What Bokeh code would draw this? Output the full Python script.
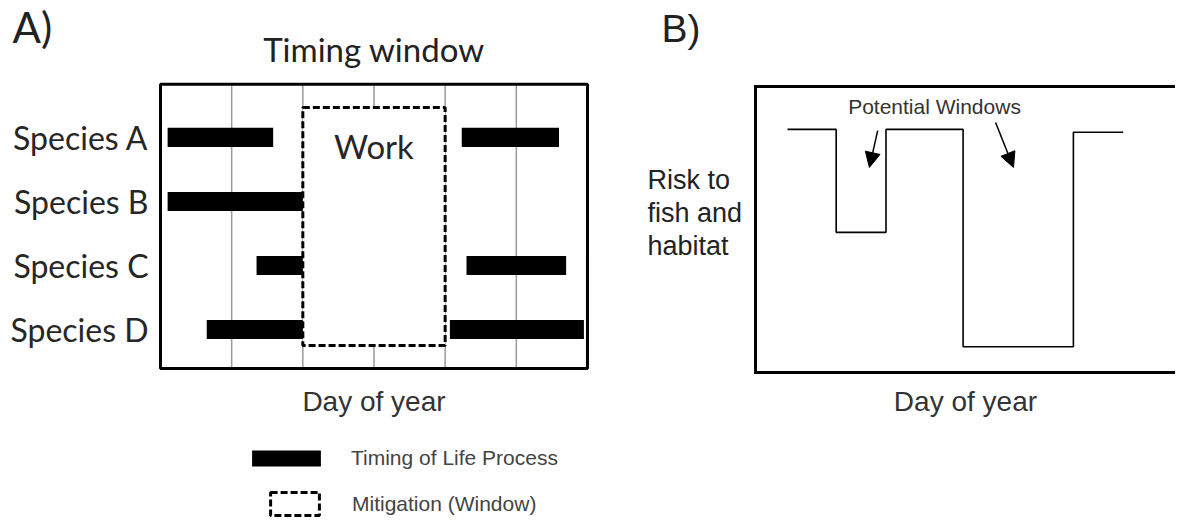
from bokeh.plotting import figure
from bokeh.models import (Range1d, Label, Legend, LegendItem, Arrow, NormalHead, BoxAnnotation)
from bokeh.core.properties import value
from bokeh.layouts import row
from bokeh.embed import file_html
from bokeh.resources import INLINE

# ---------------- data ----------------
species = ["Species A", "Species B", "Species C", "Species D"]
bar_species = ["Species A", "Species A", "Species B", "Species C", "Species C", "Species D", "Species D"]
bar_start = [6, 254, 6, 81, 258, 39, 244]     # day of year
bar_end = [95, 336, 120, 120, 342, 120, 357]
work_start = [120]
work_end = [240]
grid_days = [60, 120, 180, 240, 300]
year_days = 360

risk_day = [27, 68, 110, 175, 268, 310]
risk_level = [85, 49, 85, 9, 84, 84]          # relative risk (0-100)

row_of = {s: len(species) - i for i, s in enumerate(species)}
bar_y = [row_of[s] for s in bar_species]
species_y = [row_of[s] for s in species]

CAL = "Lato"
ARI = "Liberation Sans"

# ======================= panel A =======================
# the plotting frame covers the whole canvas; the chart box is drawn as an annotation
pA = figure(width=619, height=518, x_range=Range1d(-134.9, 387.0), y_range=Range1d(-1.953, 6.14),
            output_backend="svg", toolbar_location=None, min_border=0,
            x_axis_location=None, y_axis_location=None)
pA.outline_line_color = None
pA.xgrid.visible = False
pA.ygrid.visible = False
pA.background_fill_color = "white"
pA.border_fill_color = "white"

y_lo, y_hi = 0.39, 4.83   # extent of the chart box in row units

pA.segment(x0=grid_days, x1=grid_days, y0=[y_lo] * len(grid_days), y1=[y_hi] * len(grid_days),
           line_color="#9a9a9a", line_width=1.5)
box = pA.quad(left=work_start, right=work_end, bottom=[0.75], top=[4.47],
              fill_color="white", line_color="black", line_width=3, line_dash="7 3")
bars = pA.hbar(y=bar_y, left=bar_start, right=bar_end, height=0.3,
               fill_color="black", line_color=None)
pA.add_layout(BoxAnnotation(left=0, right=year_days, bottom=y_lo, top=y_hi,
                            fill_alpha=0, line_color="black", line_width=3, line_alpha=1))

pA.text(x=[-10.1] * len(species), y=species_y, text=species, text_font=value(CAL),
        text_font_size="32px", text_align="right", text_baseline="middle", text_color="#262626")

pA.add_layout(Label(x=180, y=3.867, text="Work", text_align="center", text_baseline="middle",
                    text_font=CAL, text_font_size="33px", text_color="#262626"))
pA.add_layout(Label(x=180, y=5.375, text="Timing window", text_align="center",
                    text_baseline="middle", text_font=CAL, text_font_size="33px",
                    text_color="#222222"))
pA.add_layout(Label(x=-124.8, y=5.719, text="A)", text_align="left", text_baseline="middle",
                    text_font=CAL, text_font_size="42px", text_color="#222222"))
pA.add_layout(Label(x=180, y=-0.125, text="Day of year", text_align="center",
                    text_baseline="middle", text_font=ARI, text_font_size="28px",
                    text_color="#333333"))

leg1 = Legend(items=[LegendItem(label="Timing of Life Process", renderers=[bars])],
              location=(243, 48), glyph_width=86, glyph_height=20, label_standoff=22,
              padding=0, margin=0, spacing=0, border_line_color=None, background_fill_alpha=0,
              label_text_font=ARI, label_text_font_size="21px", label_text_color="#444444")
leg2 = Legend(items=[LegendItem(label="Mitigation (Window)", renderers=[box])],
              location=(264, 0), glyph_width=61, glyph_height=29, label_standoff=27,
              padding=0, margin=0, spacing=0, border_line_color=None, background_fill_alpha=0,
              label_text_font=ARI, label_text_font_size="21px", label_text_color="#444444")
pA.add_layout(leg1)
pA.add_layout(leg2)

# ======================= panel B =======================
pB = figure(width=556, height=518, x_range=Range1d(-114.7, 354.1), y_range=Range1d(-51.05, 130.07),
            output_backend="svg", toolbar_location=None, min_border=0,
            x_axis_location=None, y_axis_location=None)
pB.outline_line_color = None
pB.xgrid.visible = False
pB.ygrid.visible = False
pB.background_fill_color = "white"
pB.border_fill_color = "white"

# chart box: open on the right, where it runs past the edge of the picture
pB.line(x=[420, 0, 0, 420], y=[100, 100, 0, 0], line_color="black", line_width=3,
        line_join="miter")

pB.step(x=risk_day, y=risk_level, mode="after", line_color="black", line_width=1.6)

pB.add_layout(Label(x=150.9, y=93.0, text="Potential Windows", text_align="center",
                    text_baseline="middle", text_font=ARI, text_font_size="21px",
                    text_color="#333333"))
for txt, yy in [("Risk to", 67.48), ("fish and", 55.94), ("habitat", 44.06)]:
    pB.add_layout(Label(x=-91.06, y=yy, text=txt, text_align="left", text_baseline="middle",
                        text_font=ARI, text_font_size="27px", text_color="#222222"))
pB.add_layout(Label(x=-79.25, y=120.28, text="B)", text_align="left", text_baseline="middle",
                    text_font=ARI, text_font_size="39px", text_color="#222222"))
pB.add_layout(Label(x=177, y=-10.14, text="Day of year", text_align="center",
                    text_baseline="middle", text_font=ARI, text_font_size="28px",
                    text_color="#333333"))

pB.add_layout(Arrow(end=NormalHead(size=15, fill_color="black", line_color="black", line_width=1),
                    x_start=103, y_start=84.6, x_end=96, y_end=71.7, line_width=1.5))
pB.add_layout(Arrow(end=NormalHead(size=15, fill_color="black", line_color="black", line_width=1),
                    x_start=202.4, y_start=87.4, x_end=217.5, y_end=71.7, line_width=1.5))

layout = row(pA, pB)
open("out.html", "w").write(file_html(layout, INLINE))
